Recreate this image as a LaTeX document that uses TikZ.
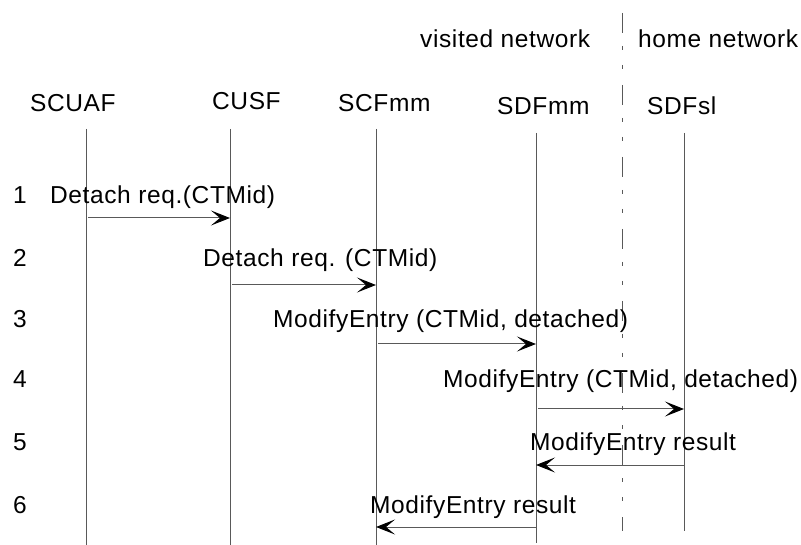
\documentclass[tikz,border=0pt]{standalone}
\usepackage{fontspec}
\setmainfont{Liberation Sans}[LetterSpace=2.5]
\usetikzlibrary{arrows.meta}
\begin{document}
\begin{tikzpicture}[x=1pt,y=-1pt,
  txt/.style={inner sep=0pt,anchor=base west,font=\fontsize{24.5}{29}\selectfont},
  life/.style={draw=gray!70!black,line width=1pt},
  msg/.style={draw=gray!70!black,line width=1pt,-{Stealth[length=19pt,width=15pt,inset=9pt,color=black,fill=black]}},
  border/.style={draw=gray!70!black,line width=1pt,dash pattern=on 20pt off 13pt on 4pt off 15pt on 4pt off 16pt}]
\useasboundingbox (0,0) rectangle (801,545);
% headers
\node[txt] (vis) at (420,48) {visited network};
\node[txt] (home) at (638,48) {home network};
% entity names
\node[txt] (nSCUAF) at (30,112) {SCUAF};
\node[txt] (nCUSF) at (212,110) {CUSF};
\node[txt] (nSCF) at (338,112) {SCFmm};
\node[txt] (nSDF) at (497,115) {SDFmm};
\node[txt] (nSDFsl) at (647,115) {SDFsl};
% lifeline ends
\coordinate (aT) at (86,129);  \coordinate (aB) at (86,545);
\coordinate (bT) at (230,129); \coordinate (bB) at (230,545);
\coordinate (cT) at (376,129); \coordinate (cB) at (376,545);
\coordinate (dT) at (536,133); \coordinate (dB) at (536,543);
\coordinate (eT) at (684,133); \coordinate (eB) at (684,531);
\coordinate (bdT) at (622,13); \coordinate (bdB) at (622,531);
\draw[life] (aT) -- (aB);
\draw[life] (bT) -- (bB);
\draw[life] (cT) -- (cB);
\draw[life] (dT) -- (dB);
\draw[life] (eT) -- (eB);
\draw[border] (bdT) -- (bdB);
% row numbers
\node[txt] (r1) at (13,204) {1};
\node[txt] (r2) at (13,267) {2};
\node[txt] (r3) at (13,328) {3};
\node[txt] (r4) at (13,388) {4};
\node[txt] (r5) at (13,450) {5};
\node[txt] (r6) at (13,513) {6};
% message labels
\node[txt] (l1) at (50,204) {Detach req.(CTMid)};
\node[txt] (l2) at (203,267) {Detach req. (CTMid)};
\node[txt] (l3) at (273,328) {ModifyEntry (CTMid, detached)};
\node[txt] (l4) at (443,388) {ModifyEntry (CTMid, detached)};
\node[txt] (l5) at (530,450) {ModifyEntry result};
\node[txt] (l6) at (370,513) {ModifyEntry result};
% message arrows
\coordinate (m1a) at (88,218);  \coordinate (m1b) at (230,218);
\coordinate (m2a) at (232,285); \coordinate (m2b) at (376,285);
\coordinate (m3a) at (378,344); \coordinate (m3b) at (536,344);
\coordinate (m4a) at (538,409); \coordinate (m4b) at (684,409);
\coordinate (m5a) at (684,465); \coordinate (m5b) at (536,465);
\coordinate (m6a) at (536,527); \coordinate (m6b) at (376,527);
\draw[msg] (m1a) -- (m1b);
\draw[msg] (m2a) -- (m2b);
\draw[msg] (m3a) -- (m3b);
\draw[msg] (m4a) -- (m4b);
\draw[msg] (m5a) -- (m5b);
\draw[msg] (m6a) -- (m6b);
\end{tikzpicture}
\end{document}
